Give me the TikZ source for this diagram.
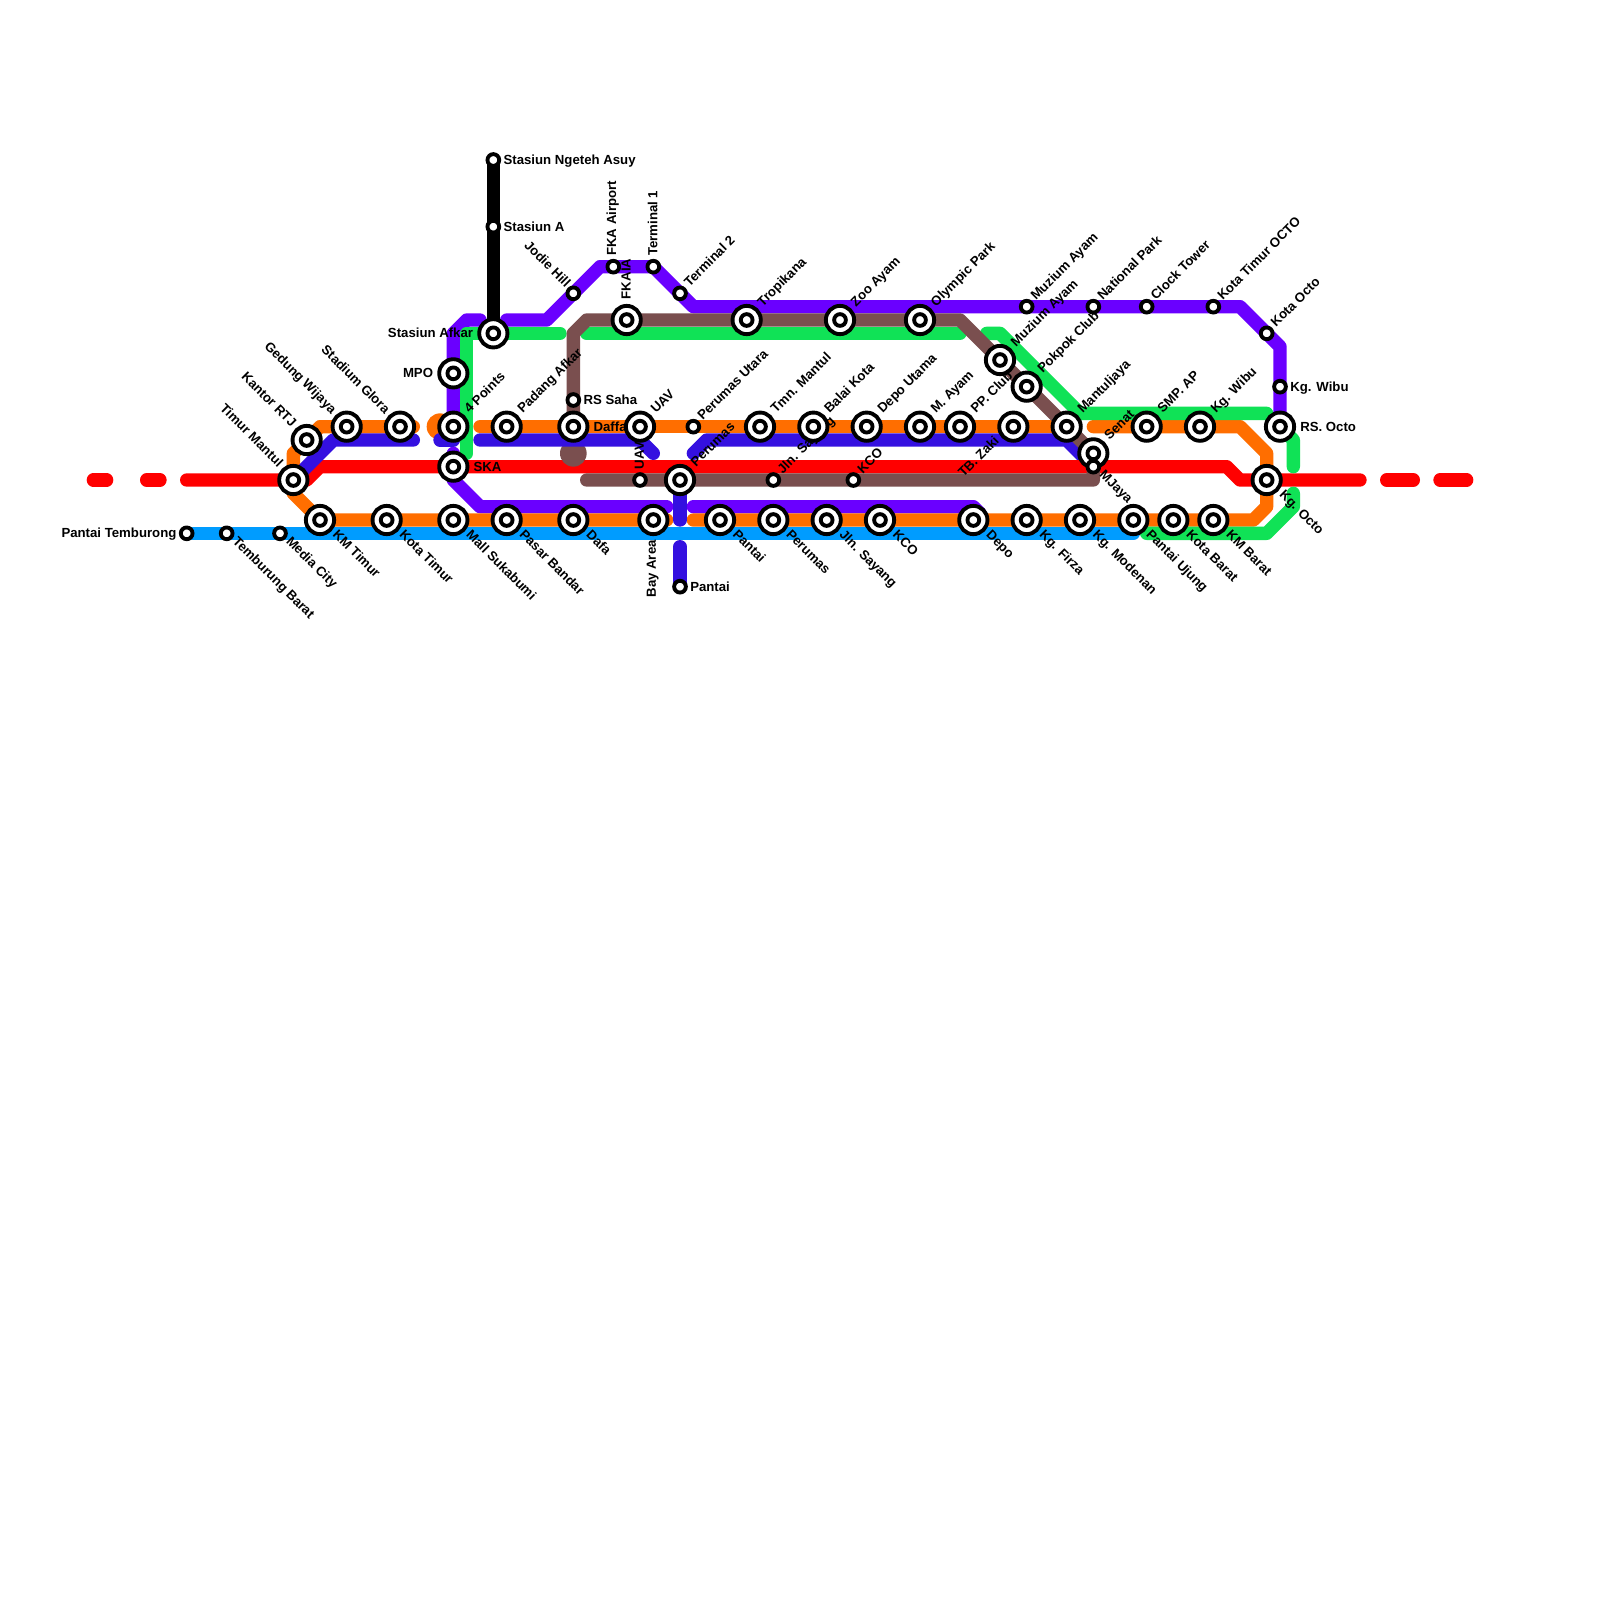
\documentclass[tikz,border=0pt]{standalone}
\usepackage{fontspec}
\setmainfont{Liberation Sans}
\definecolor{cred}{HTML}{FF0000}
\definecolor{corange}{HTML}{FF6E00}
\definecolor{cindigo}{HTML}{3410E0}
\definecolor{cpurple}{HTML}{6A00FF}
\definecolor{cgreen}{HTML}{10E256}
\definecolor{cblue}{HTML}{009CFF}
\definecolor{cbrown}{HTML}{7A4F4F}
\tikzset{
 metro/.style={line width=10pt,line cap=round,line join=round},
 ring/.style={draw=black,fill=white,line width=2.9pt},
 lbl/.style={font=\fontsize{9.9}{11}\selectfont\bfseries,inner sep=0pt,text=black},
 ne/.style={lbl,anchor=base west,rotate=45},
 se/.style={lbl,anchor=base west,rotate=-45},
 nw/.style={lbl,anchor=base east,rotate=-45},
 sw/.style={lbl,anchor=base east,rotate=45},
 ee/.style={lbl,anchor=base west},
 ww/.style={lbl,anchor=base east},
 up/.style={lbl,anchor=west,rotate=90},
 dn/.style={lbl,anchor=east,rotate=90},
}
\begin{document}
\begin{tikzpicture}[x=10pt,y=-10pt]
\useasboundingbox (0,0) rectangle (120,120);
\fill[white] (0,0) rectangle (120,120);
% coordinates
\foreach \n/\x/\y in {tm/22/36,rtj/23/33,gw/26/32,sg/30/32,mpo/34/28,fp/34/32,ska/34/35,af/37/25,pa/38/32,da/43/32,rs/43/30,jh/43/22,
 km/24/39,kt/29/39,ms/34/39,pb/38/39,df/43/39,pt/14/40,tb/17/40,mc/21/40,ng/37/12,sa/37/17,
 fa/46/20,t1/49/20,t2/51/22,fk/47/24,tr/56/24,zo/63/24,op/69/24,ua/48/32,us/48/36,pe/51/36,pu/52/32,tm2/57/32,bk/61/32,du/65/32,ma/69/32,pp/72/32,zk/76/32,
 js/58/36,ko/64/36,ba/49/39,pn/54/39,pr/58/39,jl/62/39,kc/66/39,de/73/39,ps/51/44,
 mz/77/23,np/82/23,ct/86/23,ko2/91/23,oc/95/25,kw/96/29,ro/96/32,wb/90/32,sm/86/32,mj/80/32,se2/82/34,ja/82/35,mb/75/27,pk/77/29,
 kg/95/36,fz/77/39,mo/81/39,pj/85/39,kb/88/39,kmb/91/39}
 {\coordinate (\n) at (\x,\y);}
% lines
\draw[metro,cblue] (pt) -- (pj|-pt);
\draw[metro,cpurple] (34,34) -- (34,36) -- (36,38) -- (50,38);
\draw[metro,cpurple] (52,38) -- (73,38) -- (73.5,38.5);
\draw[metro,cpurple] (34,32) -- (34,25) -- (35,24) -- (36,24);
\draw[metro,cpurple] (38,24) -- (41,24) -- (45,20) -- (49,20) -- (52,23) -- (93,23) -- (96,26) -- (ro);
\draw[metro,black] (ng) -- (af);
\draw[metro,cred] (7,36) -- (8,36);
\draw[metro,cred] (11,36) -- (12,36);
\draw[metro,cred] (14,36) -- (23,36) -- (24,35) -- (92,35) -- (93,36) -- (102,36);
\draw[metro,cred] (104,36) -- (106,36);
\draw[metro,cred] (108,36) -- (110,36);
\fill[cbrown] (43,34) circle (1);
\draw[metro,corange] (31,32) -- (24,32) -- (22,34) -- (22,37) -- (24,39) -- (50,39);
\fill[corange] (33,32) circle (1);
\draw[metro,corange] (33,32) -- (34,32);
\draw[metro,corange] (36,32) -- (80,32);
\draw[metro,corange] (82,32) -- (93,32) -- (95,34) -- (95,38) -- (94,39) -- (52,39);
\draw[metro,cindigo] (tm) -- (25,33) -- (31,33);
\draw[metro,cindigo] (33,33) -- (34,33);
\draw[metro,cindigo] (36,33) -- (48,33) -- (49,34);
\draw[metro,cindigo] (52,34) -- (53,33) -- (80,33) -- (82,35);
\draw[metro,cindigo] (51,36) -- (51,39);
\draw[metro,cindigo] (51,41) -- (ps);
\draw[line width=10pt,cred] (78,35) -- (86,35);
\draw[metro,cgreen] (35,34) -- (35,25) -- (42,25);
\draw[metro,cgreen] (44,25) -- (72,25);
\draw[metro,cgreen] (74,25) -- (75,25) -- (81,31) -- (95,31);
\draw[metro,cgreen] (96,32) -- (97,33) -- (97,35);
\draw[metro,cgreen] (97,37) -- (97,38) -- (95,40) -- (86,40);
\draw[metro,cbrown] (43,32) -- (43,25) -- (44,24) -- (72,24) -- (82,34) -- (82,36) -- (44,36);
% labels
\foreach \n/\t in {fp/4 Points,pa/Padang Afkar,ua/UAV,tm2/Tmn. Mantul,bk/Balai Kota,du/Depo Utama,ma/M. Ayam,pp/PP. Club,mj/Mantuljaya,sm/SMP. AP,wb/Kg. Wibu,tr/Tropikana,zo/Zoo Ayam,op/Olympic Park,mb/Muzium Ayam,pk/Pokpok Club,se2/Senat,pe/Perumas}
 \node[ne] at ([shift={(1.2,-.95)}]\n) {\t};
\foreach \n/\t in {t2/Terminal 2,pu/Perumas Utara,js/Jln. Sayang,ko/KCO,mz/Muzium Ayam,np/National Park,ct/Clock Tower,ko2/Kota Timur OCTO,oc/Kota Octo}
 \node[ne] at ([shift={(.7,-.42)}]\n) {\t};
\foreach \n/\t in {km/KM Timur,kt/Kota Timur,ms/Mall Sukabumi,pb/Pasar Bandar,df/Dafa,pn/Pantai,pr/Perumas,jl/Jln. Sayang,kc/KCO,de/Depo,fz/Kg. Firza,mo/Kg. Modenan,pj/Pantai Ujung,kb/Kota Barat,kmb/KM Barat,kg/Kg. Octo}
 \node[se] at ([shift={(.9,1.15)}]\n) {\t};
\foreach \n/\t in {tb/Temburung Barat,mc/Media City,ja/MJaya}
 \node[se] at ([shift={(.4,.65)}]\n) {\t};
\foreach \n/\t in {tm/Timur Mantul,rtj/Kantor RTJ,gw/Gedung Wijaya,sg/Stadium Glora}
 \node[nw] at ([shift={(-1.15,-.9)}]\n) {\t};
\node[nw] at ([shift={(-.6,-.4)}]jh) {Jodie Hill};
\node[sw] at ([shift={(-1,1.1)}]zk) {TB. Zaki};
\foreach \n/\t in {ska/SKA,da/Daffa,ro/RS. Octo}
 \node[ee] at ([shift={(1.5,.33)}]\n) {\t};
\foreach \n/\t in {ng/Stasiun Ngeteh Asuy,sa/Stasiun A,rs/RS Saha,kw/Kg. Wibu,ps/Pantai}
 \node[ee] at ([shift={(.75,.33)}]\n) {\t};
\foreach \n/\t in {af/Stasiun Afkar,mpo/MPO}
 \node[ww] at ([shift={(-1.5,.33)}]\n) {\t};
\node[ww] at ([shift={(-.75,.33)}]pt) {Pantai Temburong};
\node[up] at ([shift={(-.05,-1.55)}]fk) {FKAIA};
\node[up] at ([shift={(-.05,-.8)}]fa) {FKA Airport};
\node[up] at ([shift={(-.05,-.8)}]t1) {Terminal 1};
\node[up] at ([shift={(-.05,-.8)}]us) {UAV};
\node[dn] at ([shift={(-.05,1.5)}]ba) {Bay Area};
% stations
\foreach \n in {tm,rtj,gw,sg,mpo,fp,ska,af,pa,da,km,kt,ms,pb,df,fk,tr,zo,op,ua,pe,tm2,bk,du,ma,pp,zk,ba,pn,pr,jl,kc,de,ro,wb,sm,mj,se2,mb,pk,kg,fz,mo,pj,kb,kmb}
 {\draw[ring] (\n) circle (10.6pt); \draw[ring] (\n) circle (4.4pt);}
\foreach \n in {rs,jh,pt,tb,mc,ng,sa,fa,t1,t2,us,pu,js,ko,ps,mz,np,ct,ko2,oc,kw,ja}
 \draw[ring] (\n) circle (4.4pt);
\end{tikzpicture}
\end{document}
